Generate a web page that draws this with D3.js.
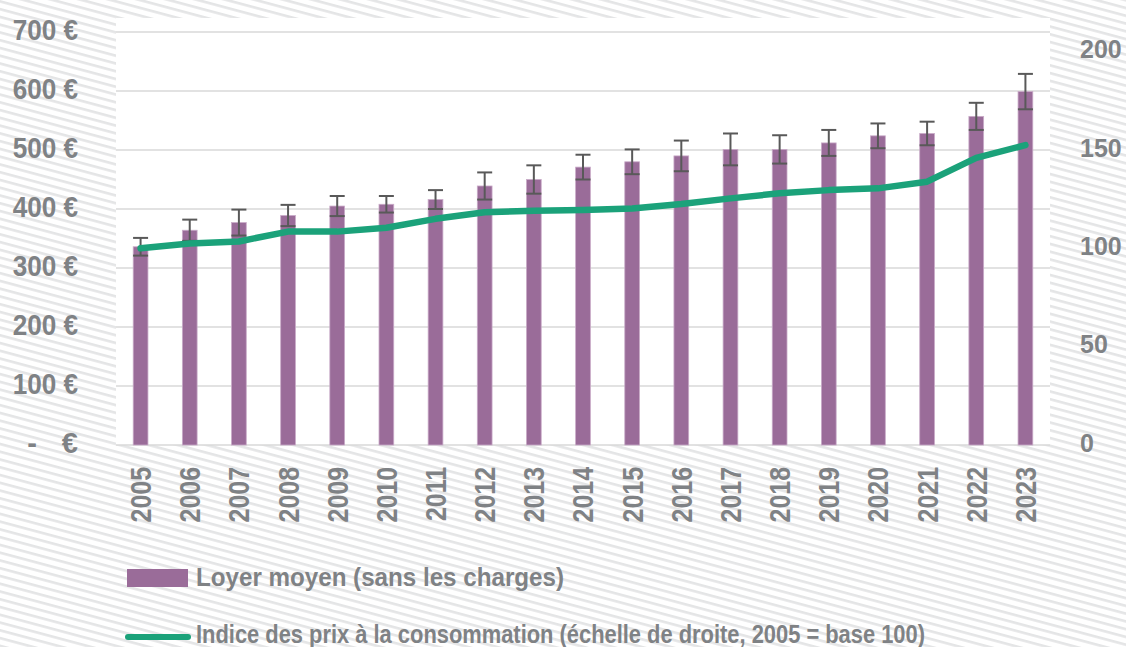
<!DOCTYPE html>
<html>
<head>
<meta charset="utf-8">
<script src="https://cdn.jsdelivr.net/npm/d3@7"></script>
<style>
  body { margin: 0; background: #fff; }
  svg text { font-family: "Liberation Sans", Arial, sans-serif; font-weight: bold; fill: #7f8285; }
</style>
</head>
<body>
<div id="chart"></div>
<script>
// Data
const years = ["2005","2006","2007","2008","2009","2010","2011","2012","2013","2014","2015","2016","2017","2018","2019","2020","2021","2022","2023"];
const rent = [336, 364, 377, 389, 405, 408, 416, 439, 450, 471, 480, 490, 501, 501, 512, 524, 528, 557, 599];
const rentErr = [15, 18, 22, 18, 17, 14, 16, 23, 24, 21, 21, 26, 27, 24, 22, 21, 20, 23, 30];
const cpi = [100, 102.5, 103.5, 108.5, 108.5, 110.5, 115, 118.3, 119.1, 119.5, 120.3, 122.5, 125.4, 128, 129.6, 130.5, 133.9, 146, 152.5];
const leftTicks = [0, 100, 200, 300, 400, 500, 600, 700];
const rightTicks = [0, 50, 100, 150, 200];
const legendLabels = ["Loyer moyen (sans les charges)", "Indice des prix à la consommation (échelle de droite, 2005 = base 100)"];

const W = 1126, H = 647;
const plot = { left: 116, right: 1050, top: 32, bottom: 445 };

const svg = d3.select("#chart").append("svg")
    .attr("width", W)
    .attr("height", H);

// squeeze a text horizontally (the original uses a condensed font)
function condense(sel, k) {
    sel.each(function() {
        const len = this.getComputedTextLength();
        d3.select(this)
            .attr("textLength", len * k)
            .attr("lengthAdjust", "spacingAndGlyphs");
    });
}

// Hatched background
const defs = svg.append("defs");
const pat = defs.append("pattern")
    .attr("id", "hatch")
    .attr("patternUnits", "userSpaceOnUse")
    .attr("width", 20)
    .attr("height", 7.5)
    .attr("patternTransform", "rotate(15)");
pat.append("rect").attr("width", 20).attr("height", 7.5).attr("fill", "#ffffff");
pat.append("rect").attr("y", 0).attr("width", 20).attr("height", 2.6).attr("fill", "#e4e5e6");

svg.append("rect")
    .attr("width", W)
    .attr("height", H)
    .attr("fill", "url(#hatch)");

// Plot area
svg.append("rect")
    .attr("x", plot.left)
    .attr("y", 18)
    .attr("width", plot.right - plot.left)
    .attr("height", plot.bottom - 18)
    .attr("fill", "#ffffff");

// Scales
const x = d3.scaleBand()
    .domain(years)
    .range([plot.left, plot.right])
    .paddingInner(0.7)
    .paddingOuter(0.35);

const y = d3.scaleLinear()
    .domain([0, 700])
    .range([plot.bottom, plot.top]);

const y2 = d3.scaleLinear()
    .domain([0, 200])
    .range([plot.bottom, y(500) - (y(0) - y(500)) / 3]);

// Gridlines
svg.append("g")
    .selectAll("line")
    .data(leftTicks)
    .join("line")
    .attr("x1", plot.left)
    .attr("x2", plot.right)
    .attr("y1", d => y(d))
    .attr("y2", d => y(d))
    .attr("stroke", "#d9d9d9")
    .attr("stroke-width", 1.5);

// Left axis
const leftAxis = svg.append("g")
    .attr("transform", "translate(78,-2)")
    .call(d3.axisLeft(y).tickValues(leftTicks).tickSize(0).tickPadding(0)
        .tickFormat(d => d === 0 ? "" : d + " €"));
leftAxis.select(".domain").remove();
leftAxis.selectAll("text")
    .attr("font-size", 29)
    .attr("font-family", null)
    .attr("fill", null);
leftAxis.selectAll(".tick")
    .filter(d => d !== 0)
    .select("text")
    .call(condense, 0.9);
leftAxis.selectAll(".tick")
    .filter(d => d === 0)
    .select("text")
    .call(t => {
        t.append("tspan").attr("x", -41).text("-");
        t.append("tspan").attr("x", 0).text("€");
    });

// Right axis
const rightAxis = svg.append("g")
    .attr("transform", "translate(1080,-2)")
    .call(d3.axisRight(y2).tickValues(rightTicks).tickSize(0).tickPadding(0));
rightAxis.select(".domain").remove();
rightAxis.selectAll("text")
    .attr("font-size", 26)
    .attr("font-family", null)
    .attr("fill", null)
    .call(condense, 0.96);

// Bottom axis labels (rotated)
const xAxis = svg.append("g")
    .attr("transform", `translate(0,${plot.bottom})`)
    .call(d3.axisBottom(x).tickSize(0).tickPadding(0));
xAxis.select(".domain").remove();
xAxis.selectAll("text")
    .attr("font-size", 29)
    .attr("font-family", null)
    .attr("fill", null)
    .attr("text-anchor", "end")
    .attr("transform", "rotate(-90)")
    .attr("x", -22)
    .attr("y", 0)
    .attr("dy", "0.36em")
    .call(condense, 0.86);

// Bars
svg.append("g")
    .selectAll("rect")
    .data(years)
    .join("rect")
    .attr("x", d => x(d))
    .attr("y", (d, i) => y(rent[i]))
    .attr("width", x.bandwidth())
    .attr("height", (d, i) => y(0) - y(rent[i]))
    .attr("fill", "#9a6c99")
    .attr("stroke", "#c9abc8")
    .attr("stroke-width", 0.8);

// Error bars
const err = svg.append("g")
    .attr("stroke", "#595959")
    .attr("stroke-width", 2);
years.forEach((yr, i) => {
    const cx = x(yr) + x.bandwidth() / 2;
    const hi = y(rent[i] + rentErr[i]);
    const lo = y(rent[i] - rentErr[i]);
    err.append("line").attr("x1", cx).attr("x2", cx).attr("y1", hi).attr("y2", lo);
    err.append("line").attr("x1", cx - 7.5).attr("x2", cx + 7.5).attr("y1", hi).attr("y2", hi);
    err.append("line").attr("x1", cx - 7.5).attr("x2", cx + 7.5).attr("y1", lo).attr("y2", lo);
});

// CPI line
const line = d3.line()
    .x((d, i) => x(years[i]) + x.bandwidth() / 2)
    .y(d => y2(d));

svg.append("path")
    .datum(cpi)
    .attr("fill", "none")
    .attr("stroke", "#1ba27a")
    .attr("stroke-width", 6.5)
    .attr("stroke-linecap", "round")
    .attr("stroke-linejoin", "round")
    .attr("d", line);

// Legend
svg.append("rect")
    .attr("x", 127)
    .attr("y", 569)
    .attr("width", 61)
    .attr("height", 18)
    .attr("fill", "#9a6c99");

svg.append("text")
    .attr("x", 196)
    .attr("y", 586)
    .attr("font-size", 25)
    .attr("textLength", 368)
    .attr("lengthAdjust", "spacingAndGlyphs")
    .text(legendLabels[0]);

svg.append("line")
    .attr("x1", 128)
    .attr("x2", 188)
    .attr("y1", 637)
    .attr("y2", 637)
    .attr("stroke", "#1ba27a")
    .attr("stroke-width", 6)
    .attr("stroke-linecap", "round");

svg.append("text")
    .attr("x", 196)
    .attr("y", 643)
    .attr("font-size", 25)
    .attr("textLength", 729)
    .attr("lengthAdjust", "spacingAndGlyphs")
    .text(legendLabels[1]);
</script>
</body>
</html>
